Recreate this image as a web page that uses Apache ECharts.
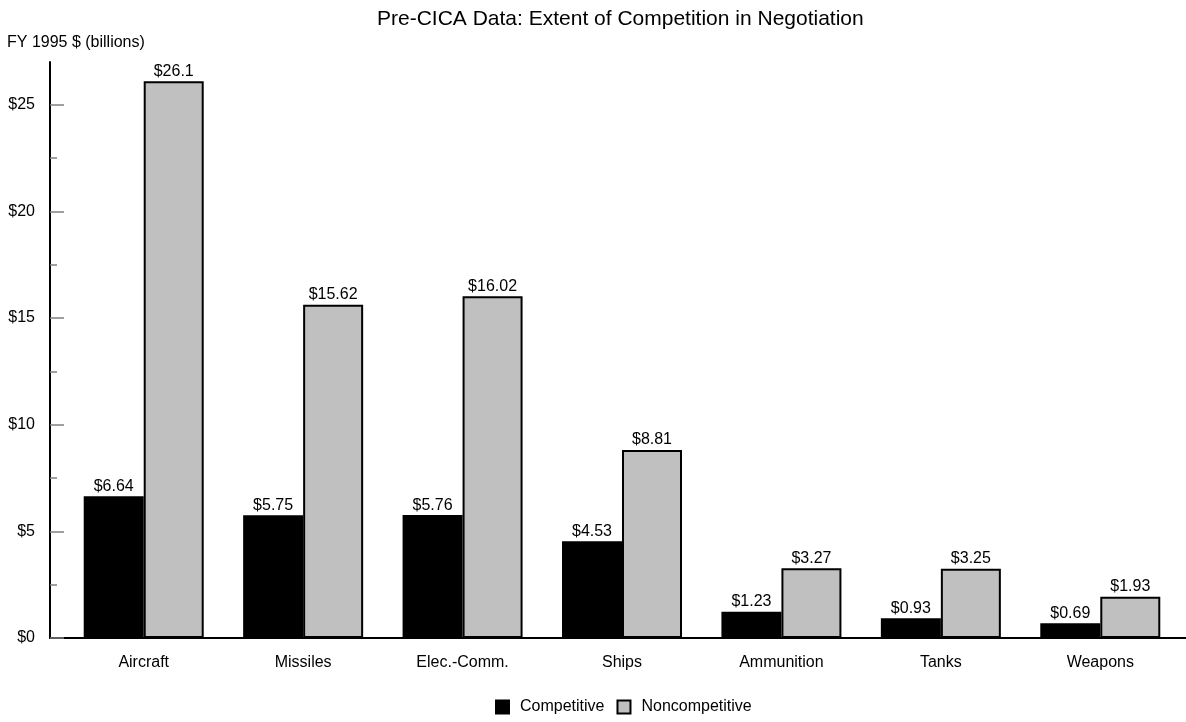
<!DOCTYPE html>
<html>
<head>
<meta charset="utf-8">
<script src="https://cdn.jsdelivr.net/npm/echarts@6/dist/echarts.min.js"></script>
<style>
  html, body { margin: 0; padding: 0; background: #fff; }
  #chart { width: 1186px; height: 722px; }
</style>
</head>
<body>
<div id="chart"></div>
<script>
// Contract dollars by weapon category, FY 1995 $ billions
const categories = ['Aircraft', 'Missiles', 'Elec.-Comm.', 'Ships', 'Ammunition', 'Tanks', 'Weapons'];
const competitive = [6.64, 5.75, 5.76, 4.53, 1.23, 0.93, 0.69];
const noncompetitive = [26.1, 15.62, 16.02, 8.81, 3.27, 3.25, 1.93];
const majorTicks = [0, 5, 10, 15, 20, 25];
const minorTicks = [2.5, 7.5, 12.5, 17.5, 22.5];

const FONT = '"Liberation Sans", Arial, sans-serif';
const chart = echarts.init(document.getElementById('chart'), null, { renderer: 'canvas' });

const valueLabel = {
  show: true,
  position: 'top',
  distance: 2,
  color: '#000',
  fontFamily: FONT,
  fontSize: 16,
  formatter: p => '$' + p.value
};

chart.setOption({
  animation: false,
  backgroundColor: '#fff',
  textStyle: { fontFamily: FONT },
  title: [
    {
      text: 'Pre-CICA Data: Extent of Competition in Negotiation',
      left: 372,
      top: 4,
      textStyle: { fontFamily: FONT, fontSize: 21, fontWeight: 'normal', color: '#000' }
    },
    {
      text: 'FY 1995 $ (billions)',
      left: 2,
      top: 30,
      textStyle: { fontFamily: FONT, fontSize: 16, fontWeight: 'normal', color: '#000' }
    }
  ],
  legend: {
    top: 694,
    left: 490,
    icon: 'rect',
    itemWidth: 13,
    itemHeight: 13,
    itemGap: 12,
    textStyle: { fontFamily: FONT, fontSize: 16, color: '#000', padding: [0, 0, 0, 6] },
    data: ['Competitive', 'Noncompetitive']
  },
  grid: [
    { left: 64, right: 6, top: 62, bottom: 84 },
    { left: 50, right: 0, top: 62, bottom: 84 }
  ],
  xAxis: [
    {
      type: 'category',
      gridIndex: 0,
      data: categories,
      axisLine: { show: false },
      axisTick: { show: false },
      axisLabel: { color: '#000', fontFamily: FONT, fontSize: 16, margin: 17 }
    },
    {
      type: 'value',
      gridIndex: 1,
      min: 0,
      max: 1,
      axisLine: { show: true, lineStyle: { color: '#000', width: 2 } },
      axisTick: { show: false },
      axisLabel: { show: false },
      splitLine: { show: false }
    }
  ],
  yAxis: [
    {
      type: 'value',
      gridIndex: 0,
      position: 'left',
      min: 0,
      max: 27,
      interval: 5,
      offset: 14,
      axisLine: { show: true, lineStyle: { color: '#000', width: 2 } },
      axisTick: {
        show: true,
        inside: true,
        length: 14,
        customValues: majorTicks,
        lineStyle: { color: '#808080', width: 1.5 }
      },
      axisLabel: {
        color: '#000',
        fontFamily: FONT,
        fontSize: 16,
        margin: 15,
        customValues: majorTicks,
        formatter: v => '$' + v
      },
      splitLine: { show: false }
    },
    {
      type: 'value',
      gridIndex: 0,
      position: 'left',
      min: 0,
      max: 27,
      interval: 5,
      offset: 14,
      axisLine: { show: false },
      axisTick: {
        show: true,
        inside: true,
        length: 7,
        customValues: minorTicks,
        lineStyle: { color: '#808080', width: 1.5 }
      },
      axisLabel: { show: false },
      splitLine: { show: false }
    },
    {
      type: 'value',
      gridIndex: 1,
      show: false
    }
  ],
  series: [
    {
      name: 'Competitive',
      type: 'bar',
      xAxisIndex: 0,
      yAxisIndex: 0,
      data: competitive,
      barWidth: 60,
      barGap: '0%',
      itemStyle: { color: '#000', borderColor: '#000', borderWidth: 2 },
      label: valueLabel
    },
    {
      name: 'Noncompetitive',
      type: 'bar',
      xAxisIndex: 0,
      yAxisIndex: 0,
      data: noncompetitive,
      barWidth: 60,
      barGap: '0%',
      itemStyle: { color: '#c0c0c0', borderColor: '#000', borderWidth: 2 },
      label: valueLabel
    }
  ]
});
</script>
</body>
</html>
